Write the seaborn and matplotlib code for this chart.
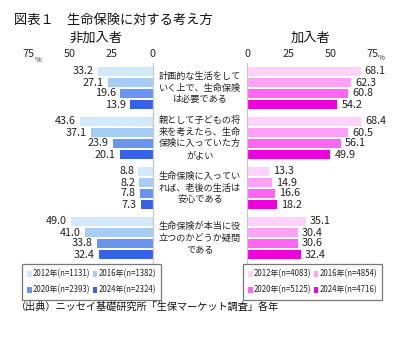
import matplotlib
matplotlib.use("Agg")
import matplotlib.pyplot as plt
import matplotlib.transforms as mtransforms
from matplotlib.patches import Patch
from matplotlib import font_manager
import seaborn as sns
import pandas as pd

sns.set_style("white")
JP = ["Noto Sans CJK JP", "DejaVu Sans"]
_names = {f.name for f in font_manager.fontManager.ttflist}
NUM = (["Liberation Sans Narrow"] if "Liberation Sans Narrow" in _names else []) + JP
plt.rcParams["font.family"] = JP

items = [
    "計画的な生活をして\nいく上で、生命保険\nは必要である",
    "親として子どもの将\n来を考えたら、生命\n保険に入っていた方\nがよい",
    "生命保険に入ってい\nれば、老後の生活は\n安心である",
    "生命保険が本当に役\n立つのかどうか疑問\nである",
]
years = ["2012年", "2016年", "2020年", "2024年"]
n_non = ["(n=1131)", "(n=1382)", "(n=2393)", "(n=2324)"]
n_ins = ["(n=4083)", "(n=4854)", "(n=5125)", "(n=4716)"]

non_2012 = [33.2, 43.6, 8.8, 49.0]
non_2016 = [27.1, 37.1, 8.2, 41.0]
non_2020 = [19.6, 23.9, 7.8, 33.8]
non_2024 = [13.9, 20.1, 7.3, 32.4]

ins_2012 = [68.1, 68.4, 13.3, 35.1]
ins_2016 = [62.3, 60.5, 14.9, 30.4]
ins_2020 = [60.8, 56.1, 16.6, 30.6]
ins_2024 = [54.2, 49.9, 18.2, 32.4]

ticks = [0, 25, 50, 75]
blues = ["#d2e9fb", "#a5cdf6", "#6b94ef", "#3663e6"]
pinks = ["#ffd2fb", "#ffa2f7", "#ff66f2", "#ee00dc"]


def long_df(series):
    rows = []
    for y, vals in zip(years, series):
        for it, v in zip(items, vals):
            rows.append({"item": it, "year": y, "value": v})
    return pd.DataFrame(rows)


df_non = long_df([non_2012, non_2016, non_2020, non_2024])
df_ins = long_df([ins_2012, ins_2016, ins_2020, ins_2024])

W, H = 401, 338
fig = plt.figure(figsize=(W / 100, H / 100), dpi=100)
top, bot = 63, 263
axL = fig.add_axes([28 / W, 1 - bot / H, 125 / W, (bot - top) / H])
axR = fig.add_axes([247 / W, 1 - bot / H, 125 / W, (bot - top) / H])

for ax, df, pal, side in [(axL, df_non, blues, "L"), (axR, df_ins, pinks, "R")]:
    sns.barplot(data=df, y="item", x="value", hue="year", orient="h",
                palette=pal, width=0.88, gap=0.27, ax=ax, legend=False,
                saturation=1, linewidth=0)
    ax.set_xlim(0, 75)
    if side == "L":
        ax.invert_xaxis()
    ax.set_ylim(3.5, -0.5)
    ax.xaxis.tick_top()
    ax.set_xticks(ticks)
    ax.set_xticklabels([str(t) for t in ticks], family=NUM, fontsize=7.8)
    ax.tick_params(axis="x", length=0, pad=3)
    ax.set_yticks([])
    ax.set_xlabel("")
    ax.set_ylabel("")
    for s in ax.spines.values():
        s.set_visible(False)
    keep = "right" if side == "L" else "left"
    ax.spines[keep].set_visible(True)
    ax.spines[keep].set_color("#c8c8c8")
    ax.spines[keep].set_linewidth(0.9)
    for c in ax.containers:
        ax.bar_label(c, fmt="%.1f", padding=3, fontsize=7.8, family=NUM,
                     color="#222222")

# middle labels
tr = mtransforms.blended_transform_factory(fig.transFigure, axR.transData)
for i, it in enumerate(items):
    fig.text(200 / W, i, it, transform=tr, ha="center", va="center",
             fontsize=6.6, linespacing=1.35, color="#222222")

# titles
fig.text(14 / W, 1 - 20 / H, "図表１　生命保険に対する考え方", ha="left",
         va="center", fontsize=9.5, color="#111111")
fig.text(96 / W, 1 - 38 / H, "非加入者", ha="center", va="center",
         fontsize=9.5, color="#111111")
fig.text(310 / W, 1 - 38 / H, "加入者", ha="center", va="center",
         fontsize=9.5, color="#111111")
fig.text(38 / W, 1 - 60 / H, "%", ha="center", va="center", fontsize=5.5)
fig.text(381 / W, 1 - 58 / H, "%", ha="center", va="center", fontsize=5.5)


# legends (row order: 2012, 2016 / 2020, 2024), fitted to the reference box
def make_legend(ax, pal, ns, x0, size, ls, bp):
    order = [0, 2, 1, 3]
    handles = [Patch(facecolor=pal[k], edgecolor="none") for k in order]
    labels = [years[k] + ns[k] for k in order]
    leg = ax.legend(handles, labels, ncol=2, loc="upper left",
                    bbox_to_anchor=(x0 / W, 1 - 264 / H),
                    bbox_transform=fig.transFigure,
                    handlelength=0.6, handleheight=0.8, handletextpad=0.12,
                    columnspacing=0.25, labelspacing=ls, borderpad=bp,
                    borderaxespad=0, fancybox=False, frameon=True,
                    prop={"family": NUM, "size": size})
    leg.get_frame().set_edgecolor("#555555")
    leg.get_frame().set_linewidth(0.9)
    return leg


for ax, pal, ns, x0 in [(axL, blues, n_non, 22), (axR, pinks, n_ins, 243)]:
    size, ls, bp = 6.5, 0.9, 0.3
    leg = make_legend(ax, pal, ns, x0, size, ls, bp)
    fig.canvas.draw()
    bb = leg.get_window_extent()
    size = size * 134.0 / bb.width
    leg.remove()
    leg = make_legend(ax, pal, ns, x0, size, ls, bp)
    fig.canvas.draw()
    bb = leg.get_window_extent()
    em = size * 100 / 72
    bp = max(0.3, bp + (36.0 - bb.height) / em / 2)
    leg.remove()
    make_legend(ax, pal, ns, x0, size, ls, bp)

fig.text(16 / W, 1 - 307 / H, "（出典）ニッセイ基礎研究所「生保マーケット調査」各年",
         ha="left", va="center", fontsize=7.3, color="#111111")

fig.savefig("out.png", dpi=100)
